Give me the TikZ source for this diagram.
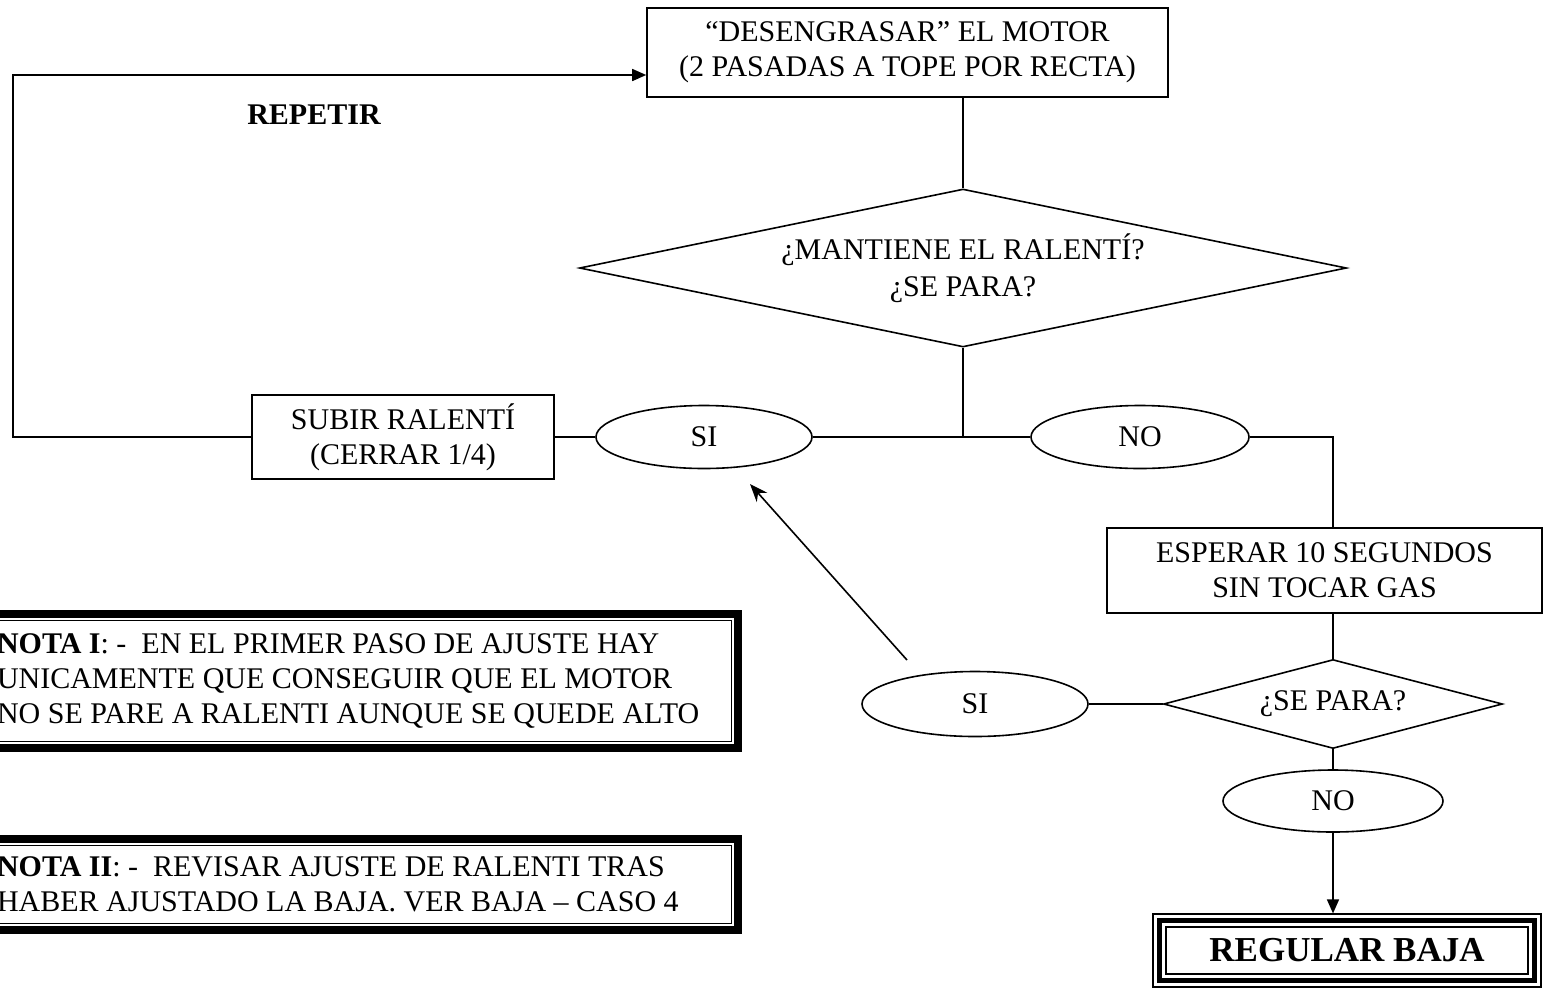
\documentclass[tikz,border=0pt]{standalone}
\usepackage{fontspec}
\setmainfont{Liberation Serif}
\usetikzlibrary{shapes,arrows,arrows.meta,positioning}

\begin{document}
\begin{tikzpicture}
[x=0.5pt,y=-0.5pt,align=center,font=\fontsize{15}{17.5}\selectfont]
\tikzstyle{plain}=[draw,line width=0.8pt,fill=white,inner sep=0pt]
\tikzstyle{choice}=[draw,line width=0.8pt,diamond,inner sep=0pt]
\tikzstyle{answer}=[draw,line width=0.8pt,ellipse,inner sep=0pt]
\tikzstyle{line}=[line width=0.8pt]
\tikzstyle{arrow}=[line width=0.8pt,-{Triangle[length=7pt,width=6pt]}]
\tikzstyle{nota}=[draw,line width=4pt,align=flush left,inner xsep=5pt,text width=365.5pt,
  path picture={\draw[line width=0.6pt] ([shift={(3.3pt,-3.3pt)}]path picture bounding box.north west) rectangle ([shift={(-3.3pt,3.3pt)}]path picture bounding box.south east);}]
\tikzstyle{final}=[draw,line width=0.6pt,font=\fontsize{17.5}{20}\selectfont\bfseries,minimum width=194pt,minimum height=36.5pt,
  path picture={\draw[line width=2.5pt] ([shift={(3.25pt,-3.25pt)}]path picture bounding box.north west) rectangle ([shift={(-3.25pt,3.25pt)}]path picture bounding box.south east);
  \draw[line width=0.6pt] ([shift={(6.5pt,-6.5pt)}]path picture bounding box.north west) rectangle ([shift={(-6.5pt,6.5pt)}]path picture bounding box.south east);}]

\path[use as bounding box,clip] (0,0) rectangle (1543,992);

\draw node [plain,minimum width=260.5pt,minimum height=44.5pt] (desen) at (907.5,52.5) {“DESENGRASAR” EL MOTOR\\(2 PASADAS A TOPE POR RECTA)};
\draw node [choice,shape aspect=4.85,minimum width=383.5pt,minimum height=79pt,font=\fontsize{15}{18.5}\selectfont] (mant) at (963,268) {¿MANTIENE EL RALENTÍ?\\¿SE PARA?};
\draw node [answer,minimum width=108pt,minimum height=31.5pt] (si1) at (704,437) {SI};
\draw node [answer,minimum width=109pt,minimum height=31.5pt] (no1) at (1140,437) {NO};
\draw node [plain,minimum width=151pt,minimum height=42pt] (subir) at (403,437) {SUBIR RALENTÍ\\(CERRAR 1/4)};
\draw node [plain,minimum width=217.5pt,minimum height=42.5pt] (esperar) at (1324.5,570.5) {ESPERAR 10 SEGUNDOS\\SIN TOCAR GAS};
\draw node [choice,shape aspect=3.8,minimum width=169.5pt,minimum height=44.5pt] (para) at (1333,704) {¿SE PARA?};
\draw node [answer,minimum width=113pt,minimum height=32.5pt] (si2) at (975,704) {SI};
\draw node [answer,minimum width=110pt,minimum height=31pt] (no2) at (1333,801) {NO};
\draw node [final] (regular) at (1347,950.5) {REGULAR BAJA};
\draw node [font=\fontsize{15}{17.5}\selectfont\bfseries] (repetir) at (314,115) {REPETIR};

\draw node [nota,minimum height=67pt] (nota1) at (362.5,681) {\textbf{NOTA I}: -\ \ EN EL PRIMER PASO DE AJUSTE HAY\\UNICAMENTE QUE CONSEGUIR QUE EL MOTOR\\NO SE PARE A RALENTI AUNQUE SE QUEDE ALTO};
\draw node [nota,minimum height=45.5pt] (nota2) at (362.5,884.5) {\textbf{NOTA II}: -\ \ REVISAR AJUSTE DE RALENTI TRAS\\HABER AJUSTADO LA BAJA. VER BAJA -- CASO 4};

\coordinate (backfrom) at (907,660);
\coordinate (backto) at (750,484);

\draw [line] (mant.north) -- (mant.north |- desen.south);
\draw [line] (mant.south) -- (mant.south |- si1.east);
\draw [line] (si1.east) -- (no1.west);
\draw [line] (subir.east) -- (si1.west);
\draw [arrow] (subir.west) -- ++(-238,0) |- ([yshift=-11.25pt]desen.west);
\draw [line] (no1.east) -| (para.north |- esperar.north);
\draw [line] (para.north |- esperar.south) -- (para.north);
\draw [line] (para.west) -- (si2.east);
\draw [line] (para.south) -- (no2.north);
\draw [arrow] (no2.south) -- (no2.south |- regular.north);
\draw [line,-{Stealth[length=9pt,width=7pt]}] (backfrom) -- (backto);

\end{tikzpicture}
\end{document}
